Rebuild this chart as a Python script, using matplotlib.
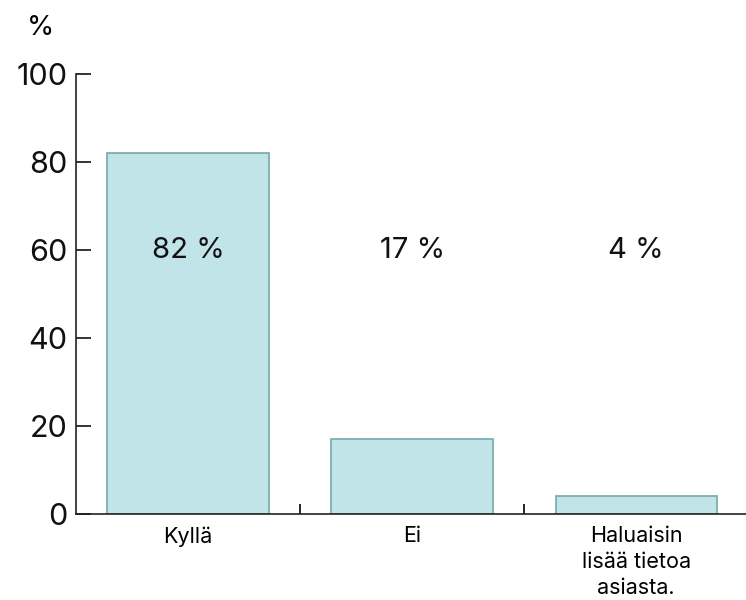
import matplotlib.pyplot as plt
import numpy as np

plt.rcParams['font.family'] = ['Inter', 'DejaVu Sans']

categories = ["Kyllä", "Ei", "Haluaisin\nlisää tietoa\nasiasta."]
values = [82, 17, 4]
bar_labels = ["82 %", "17 %", "4 %"]
yticks = [0, 20, 40, 60, 80, 100]

fig = plt.figure(figsize=(7.46, 6), dpi=100)
ax = fig.add_axes([76 / 746, 1 - 514 / 600, 1 - 76 / 746 + 0.003, (514 - 74) / 600])

x = np.arange(len(categories))
ax.bar(x, values, width=0.72, color="#c0e4e7", edgecolor="#72aaa9", linewidth=1.2, zorder=2)

# value labels all at the same height
for xi, lab in zip(x, bar_labels):
    ax.text(xi, 60, lab, ha="center", va="center", fontsize=21, color="#111111", zorder=3)

ax.set_xlim(-0.5, 2.5)
ax.set_ylim(0, 100)
ax.set_yticks(yticks)
ax.set_yticklabels([str(t) for t in yticks], fontsize=22)
ax.tick_params(axis="y", direction="in", length=11, width=1.2, pad=6, colors="#111111")

ax.set_xticks(x)
ax.set_xticklabels(categories, fontsize=15.5, linespacing=1.35)
ax.tick_params(axis="x", which="major", length=0, pad=9)
ax.set_xticks([0.5, 1.5], minor=True)
ax.tick_params(axis="x", which="minor", direction="in", length=7, width=1.2)

for s in ["top", "right"]:
    ax.spines[s].set_visible(False)
for s in ["left", "bottom"]:
    ax.spines[s].set_linewidth(1.2)
    ax.spines[s].set_color("#222222")

fig.text(40 / 746, 1 - 28 / 600, "%", ha="center", va="center", fontsize=20)

fig.savefig("out.png", dpi=100)
